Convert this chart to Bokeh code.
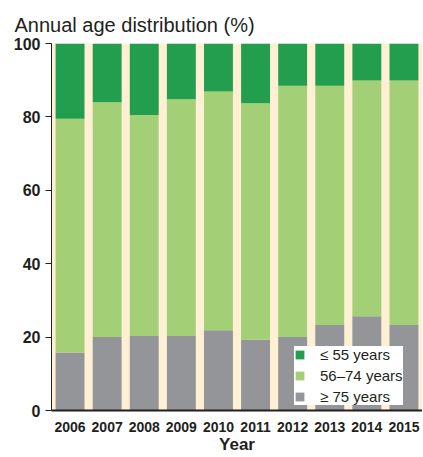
from bokeh.plotting import figure
from bokeh.models import ColumnDataSource, FactorRange, Legend, LegendItem
from bokeh.embed import file_html
from bokeh.resources import INLINE

years = ["2006", "2007", "2008", "2009", "2010", "2011", "2012", "2013", "2014", "2015"]
# percent of patients >= 75 years
old = [15.8, 20.0, 20.3, 20.3, 21.9, 19.3, 20.0, 23.3, 25.7, 23.3]
# cumulative top of 56-74 band
mid_top = [79.5, 84.0, 80.5, 84.8, 86.9, 83.7, 88.5, 88.5, 89.9, 89.9]
mid = [round(t - o, 1) for t, o in zip(mid_top, old)]
young = [round(100 - t, 1) for t in mid_top]
labels = ["\u2264 55 years", "56\u201374 years", "\u2265 75 years"]
yticks = [0, 20, 40, 60, 80, 100]

colors = {"old": "#939598", "mid": "#A3D077", "young": "#229E4E"}

src = ColumnDataSource(dict(year=years, old=old, mid=mid, young=young))

p = figure(x_range=FactorRange(*years, range_padding=0), y_range=(0, 100),
           width=422, height=456, output_backend="svg", toolbar_location=None,
           title="Annual age distribution (%)",
           min_border_left=51, min_border_right=0, min_border_top=43, min_border_bottom=20)

r = p.vbar_stack(["old", "mid", "young"], x="year", width=0.78, source=src,
                 color=[colors["old"], colors["mid"], colors["young"]], line_color=None)

legend = Legend(items=[LegendItem(label=labels[0], renderers=[r[2]]),
                       LegendItem(label=labels[1], renderers=[r[1]]),
                       LegendItem(label=labels[2], renderers=[r[0]])],
                location=(243, 5))
legend.label_text_font = "Liberation Sans"
legend.label_text_font_size = "15px"
legend.label_text_color = "#231F20"
legend.label_height = 14
legend.label_standoff = 15
legend.glyph_width = 11
legend.glyph_height = 11
legend.spacing = 4
legend.padding = 9
legend.margin = 0
legend.border_line_color = None
legend.background_fill_color = "white"
legend.background_fill_alpha = 1.0
p.add_layout(legend, "center")

p.background_fill_color = "#FFF0D5"
p.border_fill_color = "white"
p.outline_line_color = None
p.xgrid.grid_line_color = None
p.ygrid.grid_line_color = None

p.title.text_font = "Liberation Sans"
p.title.text_font_size = "20px"
p.title.text_font_style = "normal"
p.title.text_color = "#231F20"
p.title.offset = -37
p.title.standoff = 16

p.yaxis.ticker = yticks
p.yaxis.major_label_text_font = "Liberation Sans"
p.yaxis.major_label_text_font_size = "16px"
p.yaxis.major_label_text_font_style = "bold"
p.yaxis.major_label_text_color = "#231F20"
p.yaxis.axis_line_color = "#231F20"
p.yaxis.major_tick_line_color = "#231F20"
p.yaxis.major_tick_out = 6
p.yaxis.major_tick_in = 0
p.yaxis.minor_tick_line_color = None
p.yaxis.major_label_standoff = 5

p.xaxis.axis_label = "Year"
p.xaxis.axis_label_text_font = "Liberation Sans"
p.xaxis.axis_label_text_font_size = "17px"
p.xaxis.axis_label_text_font_style = "bold"
p.xaxis.axis_label_text_color = "#231F20"
p.xaxis.axis_label_standoff = 0
p.xaxis.major_label_text_font = "Liberation Sans"
p.xaxis.major_label_text_font_size = "14px"
p.xaxis.major_label_text_font_style = "bold"
p.xaxis.major_label_text_color = "#231F20"
p.xaxis.axis_line_color = "#231F20"
p.xaxis.axis_line_width = 2
p.xaxis.major_tick_line_color = None
p.xaxis.major_label_standoff = 5

open("out.html", "w").write(file_html(p, INLINE))
